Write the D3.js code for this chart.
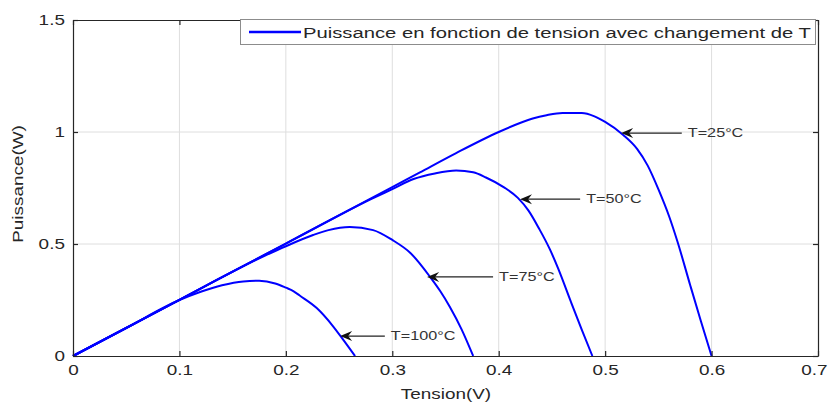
<!DOCTYPE html>
<html>
<head>
<meta charset="utf-8">
<script src="https://cdn.jsdelivr.net/npm/d3@7"></script>
<style>
  html, body { margin: 0; padding: 0; background: #fff; }
  svg { display: block; font-family: "Liberation Sans", Arial, sans-serif; }
</style>
</head>
<body>
<svg id="chart" width="828" height="403"></svg>
<script>
// Power vs. voltage of a solar cell for four cell temperatures
const tempLabels = ["T=25°C", "T=50°C", "T=75°C", "T=100°C"];

const v25 = [0, 0.1, 0.2, 0.3, 0.326, 0.36, 0.4, 0.42, 0.432, 0.445, 0.46, 0.478, 0.49, 0.5, 0.517, 0.53, 0.54, 0.55, 0.56, 0.568, 0.58, 0.59, 0.6];
const p25 = [0, 0.251, 0.502, 0.754, 0.82, 0.906, 1.0, 1.04, 1.06, 1.075, 1.085, 1.085, 1.07, 1.045, 0.987, 0.925, 0.85, 0.745, 0.625, 0.51, 0.315, 0.155, 0];

const v50 = [0, 0.1, 0.2, 0.28, 0.3, 0.32, 0.34, 0.36, 0.376, 0.388, 0.405, 0.418, 0.428, 0.438, 0.448, 0.456, 0.468, 0.478, 0.488];
const p50 = [0, 0.251, 0.502, 0.70, 0.745, 0.79, 0.815, 0.828, 0.82, 0.797, 0.753, 0.706, 0.649, 0.568, 0.477, 0.389, 0.24, 0.118, 0];

const v75 = [0, 0.1, 0.18, 0.2, 0.2256, 0.24, 0.26, 0.282, 0.3, 0.317, 0.336, 0.345, 0.354, 0.365, 0.376];
const p75 = [0, 0.251, 0.447, 0.49, 0.54, 0.562, 0.576, 0.562, 0.518, 0.46, 0.35, 0.29, 0.22, 0.12, 0];

const v100 = [0, 0.05, 0.1, 0.12, 0.14, 0.16, 0.175, 0.19, 0.2, 0.207, 0.213, 0.229, 0.244, 0.254, 0.265];
const p100 = [0, 0.125, 0.25, 0.287, 0.316, 0.333, 0.336, 0.324, 0.305, 0.29, 0.27, 0.214, 0.135, 0.072, 0];

// Arrow annotations (data units): tip on the curve, tail toward the label
const annotTipV  = [0.515, 0.42, 0.3327, 0.251];
const annotTipP  = [0.995, 0.70, 0.353, 0.089];
const annotTailV = [0.572, 0.4765, 0.3947, 0.293];

const xTicks = [0, 0.1, 0.2, 0.3, 0.4, 0.5, 0.6, 0.7];
const xTickLabels = ["0", "0.1", "0.2", "0.3", "0.4", "0.5", "0.6", "0.7"];
const yTicks = [0, 0.5, 1, 1.5];
const yTickLabels = ["0", "0.5", "1", "1.5"];

const legendLabel = "Puissance en fonction de tension avec changement de T";
const xTitle = "Tension(V)";
const yTitle = "Puissance(W)";

// ---------------------------------------------------------------
const SX = 1.35;             // horizontal text stretch
const textColor = "#262626";
const svg = d3.select("#chart");
const L = 73, R = 818, T = 20, B = 356;

const x = d3.scaleLinear().domain([0, 0.7]).range([L, R]);
const y = d3.scaleLinear().domain([0, 1.5]).range([B, T]);

// grid
const grid = svg.append("g");
grid.selectAll("line.gx").data(xTicks.slice(1, -1)).join("line")
  .attr("x1", d => x(d)).attr("x2", d => x(d)).attr("y1", T).attr("y2", B)
  .attr("stroke", "#dedede").attr("stroke-width", 1);
grid.selectAll("line.gy").data(yTicks.slice(1, -1)).join("line")
  .attr("x1", L).attr("x2", R).attr("y1", d => y(d)).attr("y2", d => y(d))
  .attr("stroke", "#dedede").attr("stroke-width", 1);

// curves
const series = [[v25, p25], [v50, p50], [v75, p75], [v100, p100]];
const line = d3.line().x(d => x(d[0])).y(d => y(d[1])).curve(d3.curveMonotoneX);
svg.append("g").selectAll("path").data(series).join("path")
  .attr("d", s => line(s[0].map((v, i) => [v, s[1][i]])))
  .attr("fill", "none").attr("stroke", "#0000ff").attr("stroke-width", 2)
  .attr("stroke-linejoin", "round");

// axes (ticks inward, box on)
function styleAxis(g) {
  g.select(".domain").attr("stroke", textColor).attr("stroke-width", 1.2);
  g.selectAll(".tick line").attr("stroke", textColor).attr("stroke-width", 1.2);
}
const fmtX = d => xTickLabels[xTicks.indexOf(d)];
const fmtY = d => yTickLabels[yTicks.indexOf(d)];

const gx = svg.append("g").attr("transform", `translate(0,${B})`)
  .call(d3.axisBottom(x).tickValues(xTicks).tickFormat(fmtX).tickSize(-5).tickSizeOuter(0).tickPadding(9));
styleAxis(gx);
const gxt = svg.append("g").attr("transform", `translate(0,${T})`)
  .call(d3.axisTop(x).tickValues(xTicks).tickFormat("").tickSize(-5).tickSizeOuter(0));
styleAxis(gxt);
const gy = svg.append("g").attr("transform", `translate(${L},0)`)
  .call(d3.axisLeft(y).tickValues(yTicks).tickFormat(fmtY).tickSize(-5).tickSizeOuter(0).tickPadding(6));
styleAxis(gy);
const gyr = svg.append("g").attr("transform", `translate(${R},0)`)
  .call(d3.axisRight(y).tickValues(yTicks).tickFormat("").tickSize(-5).tickSizeOuter(0));
styleAxis(gyr);

[gx, gy].forEach(g => g.selectAll(".tick text")
  .attr("font-size", 14).attr("fill", textColor)
  .attr("font-family", "Liberation Sans, Arial, sans-serif")
  .attr("transform", `scale(${SX},1)`));
// keep the last x label inside the frame
gx.selectAll(".tick text").filter(d => d === xTicks[xTicks.length - 1])
  .attr("transform", `translate(-4,0) scale(${SX},1)`);

// axis titles
svg.append("text").text(xTitle)
  .attr("transform", `translate(446,399) scale(${SX},1)`)
  .attr("text-anchor", "middle").attr("font-size", 14).attr("fill", textColor);
svg.append("text").text(yTitle)
  .attr("transform", `translate(23,${(T + B) / 2 - 4}) rotate(-90) scale(${SX},1)`)
  .attr("text-anchor", "middle").attr("font-size", 14).attr("fill", textColor);

// annotations
const ann = svg.append("g");
tempLabels.forEach((lab, i) => {
  const tx = x(annotTipV[i]), ty = y(annotTipP[i]), ex = x(annotTailV[i]);
  ann.append("line").attr("x1", tx + 6).attr("x2", ex).attr("y1", ty).attr("y2", ty)
    .attr("stroke", "#222").attr("stroke-width", 1.2);
  ann.append("path")
    .attr("d", "M0,0 L12,-5 L8,0 L12,5 Z")
    .attr("transform", `translate(${tx},${ty})`)
    .attr("fill", "#111");
  ann.append("text").text(lab)
    .attr("transform", `translate(${ex + 6},${ty + 4}) scale(${SX},1)`)
    .attr("font-size", 12).attr("fill", "#333");
});

// legend
const lg = svg.append("g");
lg.append("rect").attr("x", 240.5).attr("y", 19.5).attr("width", 575).attr("height", 25)
  .attr("fill", "#fff").attr("stroke", "#8c8c8c").attr("stroke-width", 1);
lg.append("line").attr("x1", 249).attr("x2", 301).attr("y1", 32).attr("y2", 32)
  .attr("stroke", "#0000ff").attr("stroke-width", 2.5);
lg.append("text").text(legendLabel)
  .attr("transform", `translate(303,37.5) scale(${SX},1)`)
  .attr("font-size", 15).attr("fill", textColor);
</script>
</body>
</html>
